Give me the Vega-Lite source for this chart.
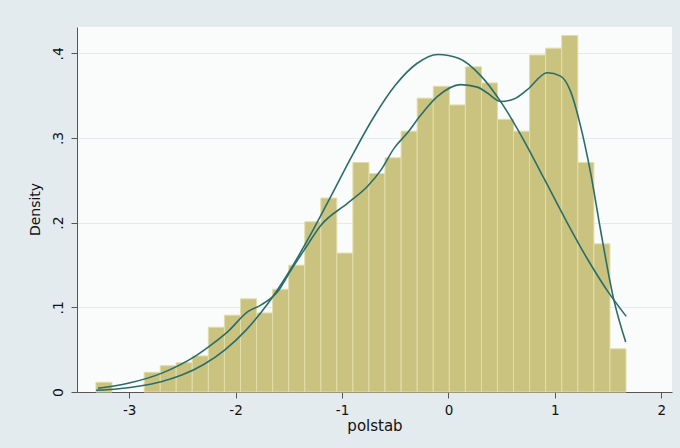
{
  "$schema": "https://vega.github.io/schema/vega-lite/v6.json",
  "width": 595,
  "height": 365,
  "autosize": {"type": "none"},
  "padding": {"left": 77, "top": 27, "right": 8, "bottom": 56},
  "background": "#e4ebee",
  "config": {
    "view": {"fill": "#fafbfb", "stroke": null},
    "font": "DejaVu Sans"
  },
  "datasets": {
    "bins": [
      {"x0": -3.312, "x1": -3.161, "density": 0.0115},
      {"x0": -2.859, "x1": -2.708, "density": 0.0233},
      {"x0": -2.708, "x1": -2.558, "density": 0.0311},
      {"x0": -2.558, "x1": -2.407, "density": 0.0346},
      {"x0": -2.407, "x1": -2.256, "density": 0.0426},
      {"x0": -2.256, "x1": -2.105, "density": 0.0765},
      {"x0": -2.105, "x1": -1.954, "density": 0.0907},
      {"x0": -1.954, "x1": -1.803, "density": 0.110},
      {"x0": -1.803, "x1": -1.652, "density": 0.0934},
      {"x0": -1.652, "x1": -1.501, "density": 0.1214},
      {"x0": -1.501, "x1": -1.350, "density": 0.1498},
      {"x0": -1.350, "x1": -1.199, "density": 0.201},
      {"x0": -1.199, "x1": -1.049, "density": 0.229},
      {"x0": -1.049, "x1": -0.898, "density": 0.164},
      {"x0": -0.898, "x1": -0.747, "density": 0.271},
      {"x0": -0.747, "x1": -0.596, "density": 0.258},
      {"x0": -0.596, "x1": -0.445, "density": 0.2766},
      {"x0": -0.445, "x1": -0.294, "density": 0.308},
      {"x0": -0.294, "x1": -0.143, "density": 0.347},
      {"x0": -0.143, "x1": 0.008, "density": 0.361},
      {"x0": 0.008, "x1": 0.159, "density": 0.339},
      {"x0": 0.159, "x1": 0.310, "density": 0.384},
      {"x0": 0.310, "x1": 0.460, "density": 0.365},
      {"x0": 0.460, "x1": 0.611, "density": 0.322},
      {"x0": 0.611, "x1": 0.762, "density": 0.308},
      {"x0": 0.762, "x1": 0.913, "density": 0.398},
      {"x0": 0.913, "x1": 1.064, "density": 0.406},
      {"x0": 1.064, "x1": 1.215, "density": 0.421},
      {"x0": 1.215, "x1": 1.366, "density": 0.271},
      {"x0": 1.366, "x1": 1.517, "density": 0.175},
      {"x0": 1.517, "x1": 1.668, "density": 0.051}
    ],
    "curves": [
      {"curve": "kernel", "x": -3.293, "y": 0.0044},
      {"curve": "kernel", "x": -3.011, "y": 0.0103},
      {"curve": "kernel", "x": -2.698, "y": 0.022},
      {"curve": "kernel", "x": -2.386, "y": 0.0417},
      {"curve": "kernel", "x": -2.229, "y": 0.0556},
      {"curve": "kernel", "x": -2.073, "y": 0.0713},
      {"curve": "kernel", "x": -1.885, "y": 0.0949},
      {"curve": "kernel", "x": -1.760, "y": 0.1028},
      {"curve": "kernel", "x": -1.604, "y": 0.1186},
      {"curve": "kernel", "x": -1.479, "y": 0.144},
      {"curve": "kernel", "x": -1.354, "y": 0.168},
      {"curve": "kernel", "x": -1.198, "y": 0.197},
      {"curve": "kernel", "x": -0.947, "y": 0.223},
      {"curve": "kernel", "x": -0.760, "y": 0.243},
      {"curve": "kernel", "x": -0.635, "y": 0.262},
      {"curve": "kernel", "x": -0.510, "y": 0.288},
      {"curve": "kernel", "x": -0.385, "y": 0.306},
      {"curve": "kernel", "x": -0.260, "y": 0.327},
      {"curve": "kernel", "x": -0.103, "y": 0.349},
      {"curve": "kernel", "x": 0.115, "y": 0.363},
      {"curve": "kernel", "x": 0.272, "y": 0.360},
      {"curve": "kernel", "x": 0.366, "y": 0.353},
      {"curve": "kernel", "x": 0.490, "y": 0.343},
      {"curve": "kernel", "x": 0.615, "y": 0.346},
      {"curve": "kernel", "x": 0.741, "y": 0.357},
      {"curve": "kernel", "x": 0.929, "y": 0.377},
      {"curve": "kernel", "x": 1.053, "y": 0.373},
      {"curve": "kernel", "x": 1.147, "y": 0.355},
      {"curve": "kernel", "x": 1.241, "y": 0.314},
      {"curve": "kernel", "x": 1.335, "y": 0.259},
      {"curve": "kernel", "x": 1.429, "y": 0.191},
      {"curve": "kernel", "x": 1.553, "y": 0.109},
      {"curve": "kernel", "x": 1.665, "y": 0.059},
      {"curve": "normal", "x": -3.31, "y": 0.0020},
      {"curve": "normal", "x": -3.1, "y": 0.0039},
      {"curve": "normal", "x": -2.9, "y": 0.0071},
      {"curve": "normal", "x": -2.7, "y": 0.0122},
      {"curve": "normal", "x": -2.5, "y": 0.0203},
      {"curve": "normal", "x": -2.3, "y": 0.0325},
      {"curve": "normal", "x": -2.1, "y": 0.0498},
      {"curve": "normal", "x": -1.9, "y": 0.0734},
      {"curve": "normal", "x": -1.7, "y": 0.1039},
      {"curve": "normal", "x": -1.5, "y": 0.1414},
      {"curve": "normal", "x": -1.3, "y": 0.1849},
      {"curve": "normal", "x": -1.1, "y": 0.2323},
      {"curve": "normal", "x": -0.9, "y": 0.2803},
      {"curve": "normal", "x": -0.7, "y": 0.3250},
      {"curve": "normal", "x": -0.5, "y": 0.3621},
      {"curve": "normal", "x": -0.3, "y": 0.3876},
      {"curve": "normal", "x": -0.1, "y": 0.3986},
      {"curve": "normal", "x": 0.1, "y": 0.3939},
      {"curve": "normal", "x": 0.3, "y": 0.3739},
      {"curve": "normal", "x": 0.5, "y": 0.3411},
      {"curve": "normal", "x": 0.7, "y": 0.2989},
      {"curve": "normal", "x": 0.9, "y": 0.2516},
      {"curve": "normal", "x": 1.1, "y": 0.2036},
      {"curve": "normal", "x": 1.3, "y": 0.1582},
      {"curve": "normal", "x": 1.5, "y": 0.1182},
      {"curve": "normal", "x": 1.67, "y": 0.0893}
    ]
  },
  "layer": [
    {
      "data": {"name": "bins"},
      "mark": {"type": "bar", "fill": "#c9c37f", "stroke": "#e2deaa", "strokeWidth": 1},
      "encoding": {
        "x": {
          "field": "x0", "type": "quantitative",
          "scale": {"domain": [-3.49, 2.1], "nice": false, "zero": false},
          "axis": {
            "title": "polstab",
            "values": [-3, -2, -1, 0, 1, 2],
            "labelExpr": "'' + datum.value",
            "grid": false,
            "domainColor": "#555555",
            "tickColor": "#555555",
            "tickSize": 6,
            "labelPadding": 5,
            "labelFontSize": 13.5,
            "labelColor": "#111111",
            "titleFontSize": 15,
            "titleFontWeight": "normal",
            "titleColor": "#111111",
            "titleBaseline": "alphabetic",
            "titleY": 38
          }
        },
        "x2": {"field": "x1"},
        "y": {
          "field": "density", "type": "quantitative",
          "scale": {"domain": [0, 0.431], "nice": false},
          "axis": {
            "title": "Density",
            "values": [0, 0.1, 0.2, 0.3, 0.4],
            "labelExpr": "datum.value == 0 ? '0' : '.' + format(datum.value * 10, 'd')",
            "grid": true,
            "gridColor": "#e3ebee",
            "gridWidth": 1.2,
            "domainColor": "#555555",
            "tickColor": "#555555",
            "tickSize": 6,
            "labelAngle": -90,
            "labelAlign": "center",
            "labelBaseline": "bottom",
            "labelPadding": 6,
            "labelFontSize": 14,
            "labelColor": "#111111",
            "titleFontSize": 14,
            "titleFontWeight": "normal",
            "titleColor": "#111111",
            "titleAngle": -90,
            "titleAlign": "center",
            "titleBaseline": "middle",
            "titleX": -42,
            "titleY": 182
          }
        },
        "y2": {"datum": 0}
      }
    },
    {
      "data": {"name": "curves"},
      "mark": {"type": "line", "interpolate": "monotone", "color": "#2b6d69", "strokeWidth": 1.6},
      "encoding": {
        "x": {"field": "x", "type": "quantitative"},
        "y": {"field": "y", "type": "quantitative"},
        "detail": {"field": "curve"}
      }
    }
  ]
}
